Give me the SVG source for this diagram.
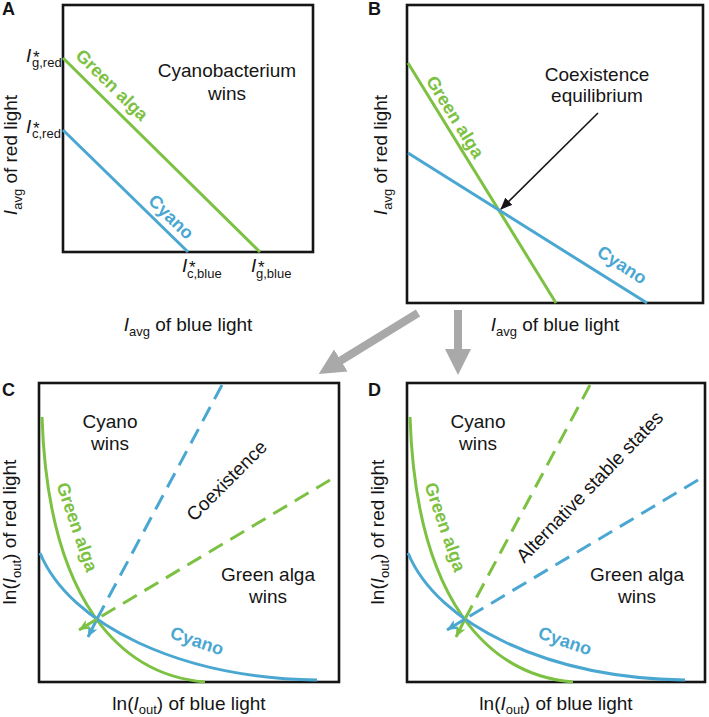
<svg xmlns="http://www.w3.org/2000/svg" width="709" height="717" viewBox="0 0 709 717">
<defs>
<style>
.box{fill:none;stroke:#151515;stroke-width:2.6}
.g{fill:none;stroke:#7cc142;stroke-width:3}
.b{fill:none;stroke:#4aa7d1;stroke-width:3}
.gd{fill:none;stroke:#7cc142;stroke-width:3;stroke-dasharray:16 9}
.bd{fill:none;stroke:#4aa7d1;stroke-width:3;stroke-dasharray:16 9}
.t{font-family:"Liberation Sans",Arial,sans-serif;font-size:19px;fill:#151515}
.pl{font-family:"Liberation Sans",Arial,sans-serif;font-size:18px;font-weight:bold;fill:#151515}
.lg{font-family:"Liberation Sans",Arial,sans-serif;font-size:18px;font-weight:bold;fill:#7cc142}
.lb{font-family:"Liberation Sans",Arial,sans-serif;font-size:18px;font-weight:bold;fill:#4aa7d1}
.sub{font-size:13px}
.st{font-size:17px}
.i{font-style:italic}
.gray{stroke:#a9a9a9;stroke-width:8;fill:none}
</style>
<marker id="mg" markerUnits="userSpaceOnUse" markerWidth="12" markerHeight="10" refX="11" refY="5" orient="auto">
<path d="M0,0 L11,5 L0,10 L3,5 z" fill="#7cc142"/>
</marker>
<marker id="mb" markerUnits="userSpaceOnUse" markerWidth="12" markerHeight="10" refX="11" refY="5" orient="auto">
<path d="M0,0 L11,5 L0,10 L3,5 z" fill="#4aa7d1"/>
</marker>
<marker id="mk" markerUnits="userSpaceOnUse" markerWidth="12" markerHeight="10" refX="11" refY="5" orient="auto">
<path d="M0,0 L12,5 L0,10 z" fill="#151515"/>
</marker>
<marker id="mgray" markerUnits="userSpaceOnUse" markerWidth="26" markerHeight="26" refX="1" refY="13" orient="auto">
<path d="M0,0 L26,13 L0,26 z" fill="#a9a9a9"/>
</marker>
</defs>

<g id="panelA">
<text class="pl" x="2" y="15">A</text>
<rect class="box" x="63" y="5" width="250" height="247"/>
<line class="g" x1="63" y1="58" x2="260" y2="252"/>
<line class="b" x1="63" y1="130" x2="188" y2="252"/>
<text class="lg" text-anchor="middle" transform="translate(112,85) rotate(44.5)" y="6">Green alga</text>
<text class="lb" text-anchor="middle" transform="translate(171,217) rotate(44.3)" y="6">Cyano</text>
<text class="t" text-anchor="middle" x="227" y="77">Cyanobacterium</text>
<text class="t" text-anchor="middle" x="227" y="100">wins</text>
<text class="t"><tspan class="i" x="26" y="62">I</tspan><tspan class="st" x="33" y="63">*</tspan><tspan class="sub" x="32" y="67">g,red</tspan></text>
<text class="t"><tspan class="i" x="26" y="133">I</tspan><tspan class="st" x="33" y="134">*</tspan><tspan class="sub" x="32" y="138">c,red</tspan></text>
<text class="t"><tspan class="i" x="182" y="272">I</tspan><tspan class="st" x="189" y="273">*</tspan><tspan class="sub" x="187" y="278">c,blue</tspan></text>
<text class="t"><tspan class="i" x="251" y="272">I</tspan><tspan class="st" x="258" y="273">*</tspan><tspan class="sub" x="256" y="278">g,blue</tspan></text>
<text class="t" text-anchor="middle" x="188" y="331"><tspan class="i">I</tspan><tspan class="sub" dy="5">avg</tspan><tspan dy="-5"> of blue light</tspan></text>
<text class="t" text-anchor="middle" transform="translate(17,155) rotate(-90)"><tspan class="i">I</tspan><tspan class="sub" dy="5">avg</tspan><tspan dy="-5"> of red light</tspan></text>
</g>

<g id="panelB">
<text class="pl" x="368" y="15">B</text>
<rect class="box" x="407" y="5" width="296" height="298"/>
<line class="g" x1="408" y1="63" x2="556" y2="303"/>
<line class="b" x1="408" y1="153" x2="647" y2="303"/>
<text class="lg" text-anchor="middle" transform="translate(455,117) rotate(58.2)" y="6">Green alga</text>
<text class="lb" text-anchor="middle" transform="translate(622,265) rotate(33)" y="6">Cyano</text>
<text class="t" text-anchor="middle" x="597" y="81">Coexistence</text>
<text class="t" text-anchor="middle" x="597" y="102">equilibrium</text>
<text class="t" text-anchor="middle" x="555" y="331"><tspan class="i">I</tspan><tspan class="sub" dy="5">avg</tspan><tspan dy="-5"> of blue light</tspan></text>
<text class="t" text-anchor="middle" transform="translate(387,155) rotate(-90)"><tspan class="i">I</tspan><tspan class="sub" dy="5">avg</tspan><tspan dy="-5"> of red light</tspan></text>
</g>

<g id="panelC">
<text class="pl" x="2" y="396">C</text>
<rect class="box" x="39" y="383" width="300" height="299"/>
<path class="g" d="M42,417 C48,600 120,675 205,682"/>
<path class="b" d="M40,553 C70,625 180,678 317,680"/>
<line class="bd" x1="222" y1="385" x2="97" y2="619"/>
<line class="gd" x1="330" y1="480" x2="97" y2="619"/>
<line class="b" x1="97" y1="619" x2="88" y2="637" marker-end="url(#mb)"/>
<line class="g" x1="97" y1="619" x2="79" y2="630" marker-end="url(#mg)"/>
<text class="lg" text-anchor="middle" transform="translate(77,527) rotate(71)" y="6">Green alga</text>
<text class="lb" text-anchor="middle" transform="translate(197,641) rotate(19)" y="6">Cyano</text>
<text class="t" text-anchor="middle" x="110" y="428">Cyano</text>
<text class="t" text-anchor="middle" x="110" y="450">wins</text>
<text class="t" text-anchor="middle" transform="translate(227,481) rotate(-45)" y="6">Coexistence</text>
<text class="t" text-anchor="middle" x="268" y="581">Green alga</text>
<text class="t" text-anchor="middle" x="268" y="603">wins</text>
<text class="t" text-anchor="middle" x="189" y="710">ln(<tspan class="i">I</tspan><tspan class="sub" dy="4">out</tspan><tspan dy="-4">) of blue light</tspan></text>
<text class="t" text-anchor="middle" transform="translate(16,532) rotate(-90)">ln(<tspan class="i">I</tspan><tspan class="sub" dy="5">out</tspan><tspan dy="-5">) of red light</tspan></text>
</g>

<g id="panelD">
<text class="pl" x="368" y="396">D</text>
<rect class="box" x="407" y="383" width="298" height="299"/>
<path class="g" d="M410,417 C416,600 488,675 573,682"/>
<path class="b" d="M408,553 C438,625 548,678 685,680"/>
<line class="gd" x1="590" y1="385" x2="465" y2="619"/>
<line class="bd" x1="698" y1="480" x2="465" y2="619"/>
<line class="g" x1="465" y1="619" x2="456" y2="637" marker-end="url(#mg)"/>
<line class="b" x1="465" y1="619" x2="447" y2="630" marker-end="url(#mb)"/>
<text class="lg" text-anchor="middle" transform="translate(445,527) rotate(71)" y="6">Green alga</text>
<text class="lb" text-anchor="middle" transform="translate(565,641) rotate(19)" y="6">Cyano</text>
<text class="t" text-anchor="middle" x="478" y="428">Cyano</text>
<text class="t" text-anchor="middle" x="478" y="450">wins</text>
<text class="t" text-anchor="middle" transform="translate(590,487) rotate(-46)" y="6">Alternative stable states</text>
<text class="t" text-anchor="middle" x="637" y="581">Green alga</text>
<text class="t" text-anchor="middle" x="637" y="603">wins</text>
<text class="t" text-anchor="middle" x="556" y="710">ln(<tspan class="i">I</tspan><tspan class="sub" dy="4">out</tspan><tspan dy="-4">) of blue light</tspan></text>
<text class="t" text-anchor="middle" transform="translate(384,532) rotate(-90)">ln(<tspan class="i">I</tspan><tspan class="sub" dy="5">out</tspan><tspan dy="-5">) of red light</tspan></text>
</g>

<g id="connectors">
<line x1="598" y1="113" x2="501" y2="209" stroke="#151515" stroke-width="1.6" marker-end="url(#mk)"/>
<line class="gray" x1="418" y1="313" x2="340" y2="361" marker-end="url(#mgray)"/>
<line class="gray" x1="458" y1="310" x2="458" y2="350" marker-end="url(#mgray)"/>
</g>
</svg>
